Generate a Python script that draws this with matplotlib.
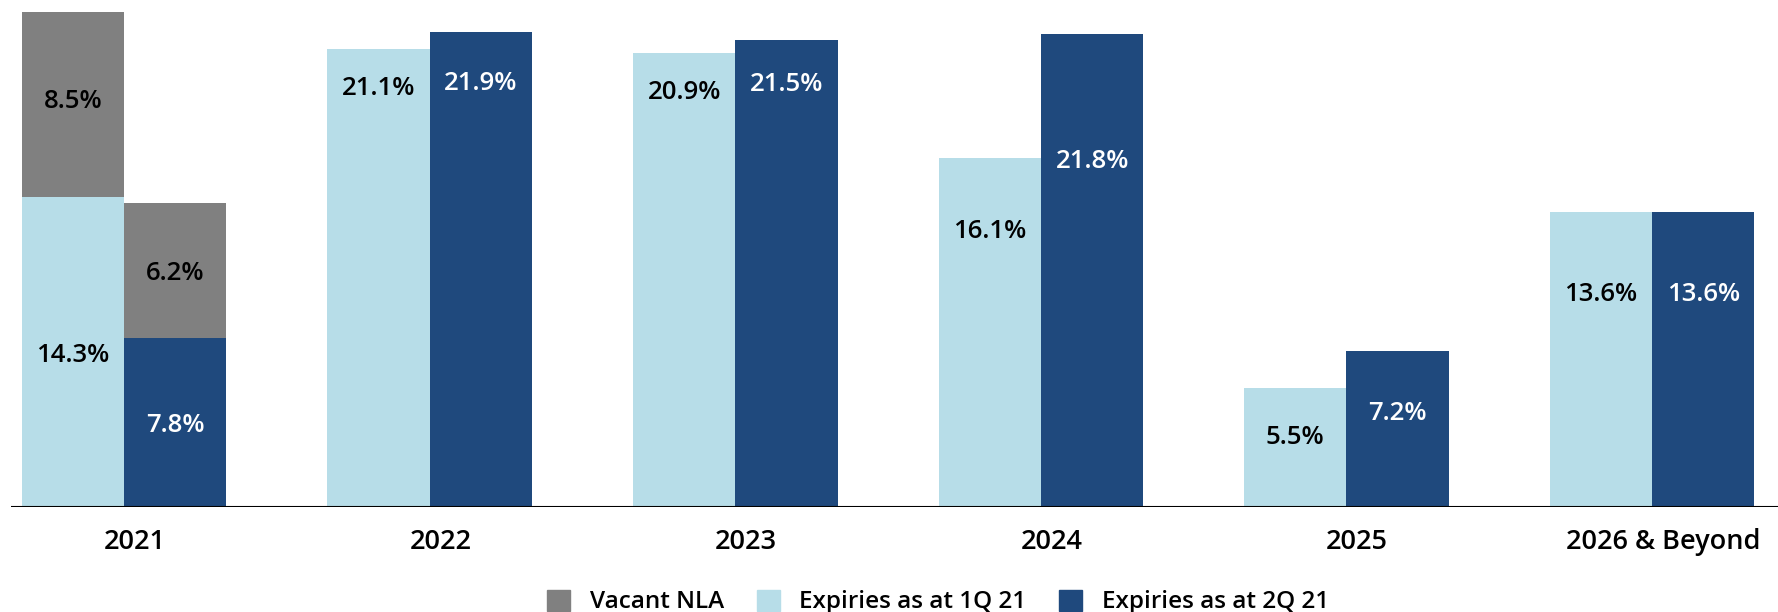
import numpy as np
import matplotlib
matplotlib.use("Agg")
import matplotlib.pyplot as plt
from matplotlib.patches import Patch

plt.rcParams['font.family'] = ['Open Sans', 'DejaVu Sans']

categories = ['2021', '2022', '2023', '2024', '2025', '2026 & Beyond']
exp_1q = [14.3, 21.1, 20.9, 16.1, 5.5, 13.6]
exp_2q = [7.8, 21.9, 21.5, 21.8, 7.2, 13.6]
vacant_1q = [8.5, 0, 0, 0, 0, 0]
vacant_2q = [6.2, 0, 0, 0, 0, 0]

# where the value labels sit (data units)
lab_1q = [7.0, 19.3, 19.1, 12.7, 3.2, 9.8]
lab_2q = [3.75, 19.5, 19.45, 15.9, 4.3, 9.8]
lab_vac_1q = 18.7
lab_vac_2q = 10.75

c_vac = '#808080'
c_1q = '#B7DDE8'
c_2q = '#1F497D'

fig = plt.figure(figsize=(17.78, 6.12), dpi=100)
ax = fig.add_axes([11 / 1778, 1 - 507 / 612, 1 - 11 / 1778, 507 / 612])

x = np.arange(len(categories))
w = 0.335

ax.bar(x - w / 2, exp_1q, w, color=c_1q, zorder=2)
ax.bar(x + w / 2, exp_2q, w, color=c_2q, zorder=2)
ax.bar(x - w / 2, vacant_1q, w, bottom=exp_1q, color=c_vac, zorder=2)
ax.bar(x + w / 2, vacant_2q, w, bottom=exp_2q, color=c_vac, zorder=2)

fs = 18.5
wt = 'semibold'
for i in range(len(categories)):
    ax.text(x[i] - w / 2, lab_1q[i], f'{exp_1q[i]:.1f}%', ha='center', va='center',
            fontsize=fs, fontweight=wt, color='black', zorder=3)
    ax.text(x[i] + w / 2, lab_2q[i], f'{exp_2q[i]:.1f}%', ha='center', va='center',
            fontsize=fs, fontweight=wt, color='white', zorder=3)
ax.text(x[0] - w / 2, lab_vac_1q, f'{vacant_1q[0]:.1f}%', ha='center', va='center',
        fontsize=fs, fontweight=wt, color='black', zorder=3)
ax.text(x[0] + w / 2, lab_vac_2q, f'{vacant_2q[0]:.1f}%', ha='center', va='center',
        fontsize=fs, fontweight=wt, color='black', zorder=3)

# category labels below the axis line
for i, cat in enumerate(categories):
    ax.text(x[i] + 0.035, -35 / 507, cat, transform=ax.get_xaxis_transform(),
            ha='center', va='center', fontsize=19.5, fontweight=wt, color='black')

ax.axhline(0, color='black', lw=1.5, zorder=4)
ax.set_xlim(-0.370, 5.412)
ax.set_ylim(0, 23.36)
ax.axis('off')

handles = [Patch(color=c_vac, label='Vacant NLA'),
           Patch(color=c_1q, label='Expiries as at 1Q 21'),
           Patch(color=c_2q, label='Expiries as at 2Q 21')]
fig.legend(handles=handles, loc='center', bbox_to_anchor=(938 / 1778, 10 / 612),
           ncol=3, frameon=False, prop={'size': 17.5, 'weight': wt},
           handlelength=0.95, handleheight=0.95,
           handletextpad=0.8, columnspacing=1.35, borderpad=0)

fig.savefig('out.png', dpi=100)
